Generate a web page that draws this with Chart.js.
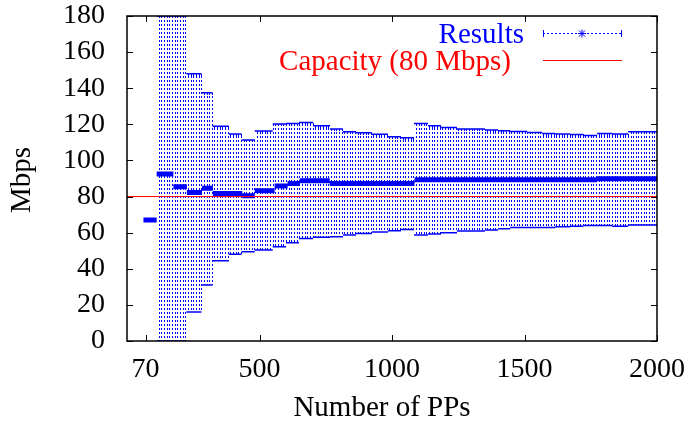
<!DOCTYPE html>
<html>
<head>
<meta charset="utf-8">
<script src="https://cdn.jsdelivr.net/npm/chart.js@4.4.1/dist/chart.umd.min.js"></script>
<style>
  html, body { margin: 0; padding: 0; background: #fff; }
</style>
</head>
<body>
<canvas id="chart" width="688" height="424"></canvas>
<script>
// --- DATA ---
const xTicks = [70, 500, 1000, 1500, 2000];
const yTicks = [0, 20, 40, 60, 80, 100, 120, 140, 160, 180];
const capacity = 80;

// mean throughput, piecewise (Number of PPs from -> to)
const meanFrom = [62, 112, 175, 226, 283, 324, 435, 482, 557, 606, 652, 765, 1085, 1774];
const meanTo   = [112, 175, 226, 283, 324, 435, 482, 557, 606, 652, 765, 1085, 1774, 2000];
const meanMbps = [67, 92.5, 85.5, 82.2, 84.6, 81.7, 80.5, 83.2, 85.8, 87.3, 88.8, 87.3, 89.3, 89.9];

// error bars (min / max) for each group of runs
const errFrom = [111, 224, 281, 323, 384, 432, 482, 550, 600, 649, 702, 766, 815, 864, 924, 985, 1034, 1083, 1136, 1185, 1245, 1351, 1400, 1446, 1510, 1567, 1616, 1672, 1721, 1774, 1831, 1891];
const errTo   = [224, 281, 323, 384, 432, 482, 550, 600, 649, 702, 766, 815, 864, 924, 985, 1034, 1083, 1136, 1185, 1245, 1351, 1400, 1446, 1510, 1567, 1616, 1672, 1721, 1774, 1831, 1891, 2000];
const errLow  = [0, 16, 31, 44.5, 48, 49.5, 50.4, 52.2, 54.4, 56.8, 57.4, 57.8, 58.7, 59.6, 60.4, 61, 61.8, 58.7, 59.2, 60, 60.9, 61.5, 62.2, 62.8, 62.9, 62.8, 63.3, 63.6, 64, 64, 63.6, 64.2];
const errHigh = [180, 148, 137.5, 119, 114.6, 111.3, 116.3, 120.2, 120.5, 121, 119.2, 117.4, 115.9, 115.4, 114.5, 113.1, 112.6, 120.5, 119.2, 118.2, 117.4, 116.8, 116.4, 116.1, 115.5, 114.9, 114.6, 114.4, 113.8, 114.9, 114.6, 115.9];

const FONT = "'Liberation Serif', 'Times New Roman', serif";
const BLUE = '#0000ff';

function steps(from, to, vals) {
    const out = [];
    from.forEach((f, i) => {
        out.push({ x: f, y: vals[i] }, { x: to[i], y: vals[i] }, { x: to[i], y: null });
    });
    return out;
}

// dotted vertical error bars, one every 10 PPs
const stipple = {
    id: 'stipple',
    beforeDatasetsDraw(chart) {
        const { ctx, chartArea: a, scales: { x, y } } = chart;
        ctx.save();
        ctx.beginPath();
        ctx.rect(a.left, a.top, a.right - a.left, a.bottom - a.top);
        ctx.clip();
        ctx.fillStyle = BLUE;
        errFrom.forEach((f, i) => {
            const top = Math.round(y.getPixelForValue(errHigh[i]));
            const bot = Math.round(y.getPixelForValue(errLow[i]));
            for (let v = Math.ceil(f / 10) * 10; v < errTo[i]; v += 10) {
                const px = Math.round(x.getPixelForValue(v));
                for (let py = top - (top % 4); py < bot; py += 4) {
                    const y0 = Math.max(py, top);
                    ctx.fillRect(px, y0, 1, Math.min(2, bot - y0));
                }
            }
        });
        ctx.restore();
    }
};

// gnuplot style frame, inward ticks, titles and key
const frame = {
    id: 'frame',
    afterDraw(chart) {
        const { ctx, chartArea: a, scales: { x, y } } = chart;
        ctx.save();
        ctx.strokeStyle = '#000';
        ctx.lineWidth = 1.5;
        ctx.strokeRect(a.left, a.top, a.right - a.left, a.bottom - a.top);
        ctx.lineWidth = 1;
        ctx.beginPath();
        const t = 6;
        xTicks.forEach(v => {
            const px = Math.round(x.getPixelForValue(v)) + 0.5;
            ctx.moveTo(px, a.bottom); ctx.lineTo(px, a.bottom - t);
            ctx.moveTo(px, a.top); ctx.lineTo(px, a.top + t);
        });
        yTicks.forEach(v => {
            const py = Math.round(y.getPixelForValue(v)) + 0.5;
            ctx.moveTo(a.left, py); ctx.lineTo(a.left + t, py);
            ctx.moveTo(a.right, py); ctx.lineTo(a.right - t, py);
        });
        ctx.stroke();

        // axis titles
        ctx.fillStyle = '#000';
        ctx.font = '29px ' + FONT;
        ctx.textAlign = 'center';
        ctx.textBaseline = 'alphabetic';
        ctx.fillText('Number of PPs', 382, 416);
        ctx.save();
        ctx.translate(30, 180);
        ctx.rotate(-Math.PI / 2);
        ctx.fillText('Mbps', 0, 0);
        ctx.restore();

        // key
        ctx.textAlign = 'right';
        ctx.textBaseline = 'middle';
        ctx.fillStyle = BLUE;
        ctx.fillText('Results', 524, 35);
        ctx.fillStyle = '#ff0000';
        ctx.fillText('Capacity (80 Mbps)', 511, 62);

        ctx.strokeStyle = BLUE;
        ctx.lineWidth = 1;
        ctx.setLineDash([2, 2]);
        ctx.beginPath();
        ctx.moveTo(543, 33.5); ctx.lineTo(622, 33.5);
        ctx.stroke();
        ctx.setLineDash([]);
        ctx.beginPath();
        ctx.moveTo(543.5, 30); ctx.lineTo(543.5, 37);
        ctx.moveTo(621.5, 30); ctx.lineTo(621.5, 37);
        // star
        ctx.moveTo(578, 33.5); ctx.lineTo(586, 33.5);
        ctx.moveTo(582, 29.5); ctx.lineTo(582, 37.5);
        ctx.moveTo(579, 30.5); ctx.lineTo(585, 36.5);
        ctx.moveTo(585, 30.5); ctx.lineTo(579, 36.5);
        ctx.stroke();

        ctx.strokeStyle = '#ff0000';
        ctx.beginPath();
        ctx.moveTo(543, 60.5); ctx.lineTo(622, 60.5);
        ctx.stroke();
        ctx.restore();
    }
};

new Chart(document.getElementById('chart'), {
    type: 'line',
    data: {
        datasets: [
            {
                label: 'Capacity (80 Mbps)',
                data: [{ x: 0, y: capacity }, { x: 2000, y: capacity }],
                borderColor: '#ff0000',
                borderWidth: 1,
                pointRadius: 0
            },
            {
                label: 'max',
                data: steps(errFrom, errTo, errHigh),
                borderColor: BLUE,
                borderWidth: 1.5,
                pointRadius: 0
            },
            {
                label: 'min',
                data: steps(errFrom, errTo, errLow),
                borderColor: BLUE,
                borderWidth: 1.5,
                pointRadius: 0
            },
            {
                label: 'Results',
                data: steps(meanFrom, meanTo, meanMbps),
                borderColor: BLUE,
                borderWidth: 5,
                pointRadius: 0
            }
        ]
    },
    options: {
        responsive: false,
        animation: false,
        devicePixelRatio: 1,
        layout: { padding: { left: 0, right: 31, top: 16, bottom: 0 } },
        plugins: { legend: { display: false }, tooltip: { enabled: false } },
        scales: {
            x: {
                type: 'linear',
                min: 0,
                max: 2000,
                afterBuildTicks: s => { s.ticks = xTicks.map(v => ({ value: v })); },
                afterFit: s => { s.height = 83; s.paddingLeft = 0; s.paddingRight = 0; },
                grid: { display: false },
                border: { display: false },
                ticks: {
                    color: '#000', padding: 4, maxRotation: 0, autoSkip: false,
                    callback: v => String(v),
                    font: { family: FONT, size: 28 }
                }
            },
            y: {
                min: 0,
                max: 180,
                afterBuildTicks: s => { s.ticks = yTicks.map(v => ({ value: v })); },
                afterFit: s => { s.width = 127; s.paddingTop = 0; s.paddingBottom = 0; },
                grid: { display: false },
                border: { display: false },
                ticks: {
                    color: '#000', padding: 14, autoSkip: false,
                    callback: v => String(v),
                    font: { family: FONT, size: 28 }
                }
            }
        }
    },
    plugins: [stipple, frame]
});
</script>
</body>
</html>
